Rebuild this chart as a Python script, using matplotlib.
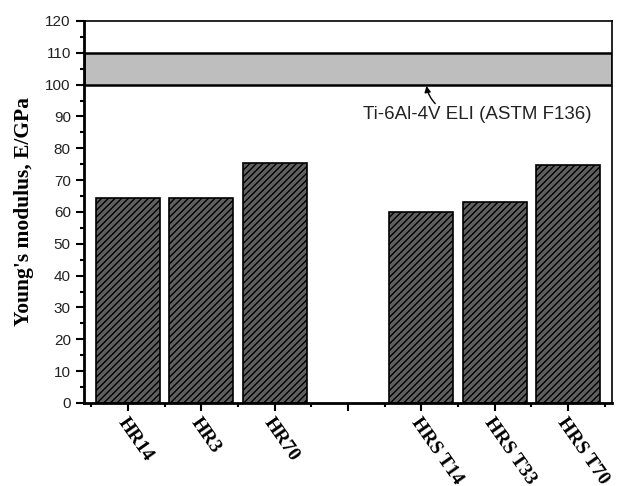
import matplotlib.pyplot as plt
from matplotlib.ticker import MultipleLocator

# data
positions = [1, 2, 3, 5, 6, 7]
labels = ['HR14', 'HR3', 'HR70', 'HRS T14', 'HRS T33', 'HRS T70']
modulus = [64.4, 64.3, 75.4, 60.0, 63.1, 74.8]
band_low = 100
band_high = 110

fig = plt.figure(figsize=(6.19, 4.86), dpi=100)
ax = fig.add_axes([0.1357, 0.1708, 0.853, 0.786])

ax.axhspan(band_low, band_high, facecolor='#bebebe', edgecolor='black', linewidth=1.8)

plt.rcParams['hatch.linewidth'] = 1.0
ax.bar(positions, modulus, width=0.87, color='#606060', edgecolor='black',
       hatch='/////', linewidth=1.2)

ax.annotate('Ti-6Al-4V ELI (ASTM F136)', xy=(5.07, 99.6), xytext=(4.2, 90.5),
            fontsize=13.5, color='#222222', va='center', ha='left',
            family='Liberation Sans',
            arrowprops=dict(arrowstyle='-|>', color='black', lw=1,
                            connectionstyle='arc3,rad=-0.2', shrinkA=0, shrinkB=0,
                            mutation_scale=9,
                            relpos=(0.34, 0.9)))

ax.set_xlim(0.4, 7.6)
ax.set_ylim(0, 120)
ax.yaxis.set_major_locator(MultipleLocator(10))
ax.yaxis.set_minor_locator(MultipleLocator(5))
ax.tick_params(axis='both', which='major', direction='out', length=6, width=1.5,
               labelsize=11)
ax.tick_params(axis='both', which='minor', direction='out', length=3, width=1.5)
ax.set_xticks([1, 2, 3, 4, 5, 6, 7])
ax.set_xticks([0.5 + i for i in range(8)], minor=True)
ax.set_xticklabels(['HR14', 'HR3', 'HR70', ''] + labels[3:], rotation=-55,
                   ha='left', va='top', rotation_mode='anchor',
                   fontsize=14, fontweight='bold', family='Liberation Serif')
ax.tick_params(axis='x', which='major', pad=2)
for lab in ax.get_yticklabels():
    lab.set_family('Liberation Sans')
    lab.set_color('#222222')

for s in ax.spines.values():
    s.set_linewidth(1.2)
ax.spines['left'].set_linewidth(2)
ax.spines['bottom'].set_linewidth(2)

ax.set_ylabel("Young's modulus, E/GPa", fontsize=15.5, fontweight='bold',
              family='Liberation Serif', labelpad=8)

fig.savefig('out.png', dpi=100)
